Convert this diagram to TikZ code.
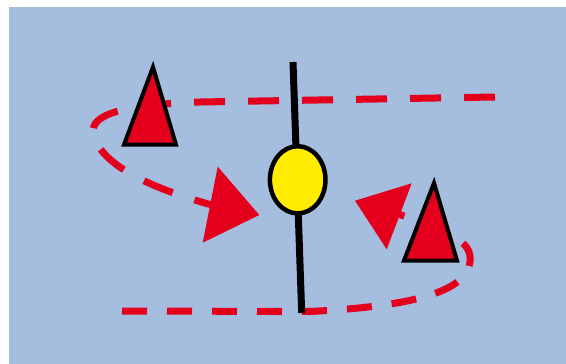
\documentclass[tikz,border=0pt]{standalone}
\usepackage{tikz}
\definecolor{bgblue}{RGB}{165,190,223}
\definecolor{redc}{RGB}{228,0,28}
\definecolor{yel}{RGB}{255,236,0}
\tikzset{
  redpath/.style={draw=redc, line width=7pt},
  arrowhd/.style={fill=redc, draw=none},
  cone/.style={fill=redc, draw=black, line width=4pt, line join=miter},
}
\begin{document}
\begin{tikzpicture}[x=1pt,y=-1pt]
\useasboundingbox (0,0) rectangle (566,364);
\fill[white] (0,0) rectangle (566,364);
\fill[bgblue] (9,7) rectangle (566,364);
% dashed paths
\draw[redpath, dash pattern=on 31 off 23]
  (495,97) -- (200,102) .. controls (110,105) and (88,118) .. (94,136)
  .. controls (102,165) and (150,188) .. (212,205);
\draw[redpath, dash pattern=on 25 off 20]
  (122,311) -- (310,311.5) .. controls (420,306) and (466,290) .. (470,262)
  .. controls (473,240) and (445,230) .. (398,214);
% arrowheads
\fill[arrowhd] (217.7,166.7) -- (259.3,215) -- (202.7,242.7) -- cycle;
\fill[arrowhd] (355,200.7) -- (411.7,183.3) -- (386.7,249.3) -- cycle;
% cones
\draw[cone] (153,67) -- (176,144.7) -- (124,144.7) -- cycle;
\draw[cone] (434,183) -- (457,260.5) -- (404,260.5) -- cycle;
% black line and ellipse
\draw[black, line width=7pt] (293,62) -- (301.7,313);
\draw[fill=yel, draw=black, line width=4.5pt] (297.7,179.8) ellipse [x radius=27.8, y radius=33.6];
\end{tikzpicture}
\end{document}
